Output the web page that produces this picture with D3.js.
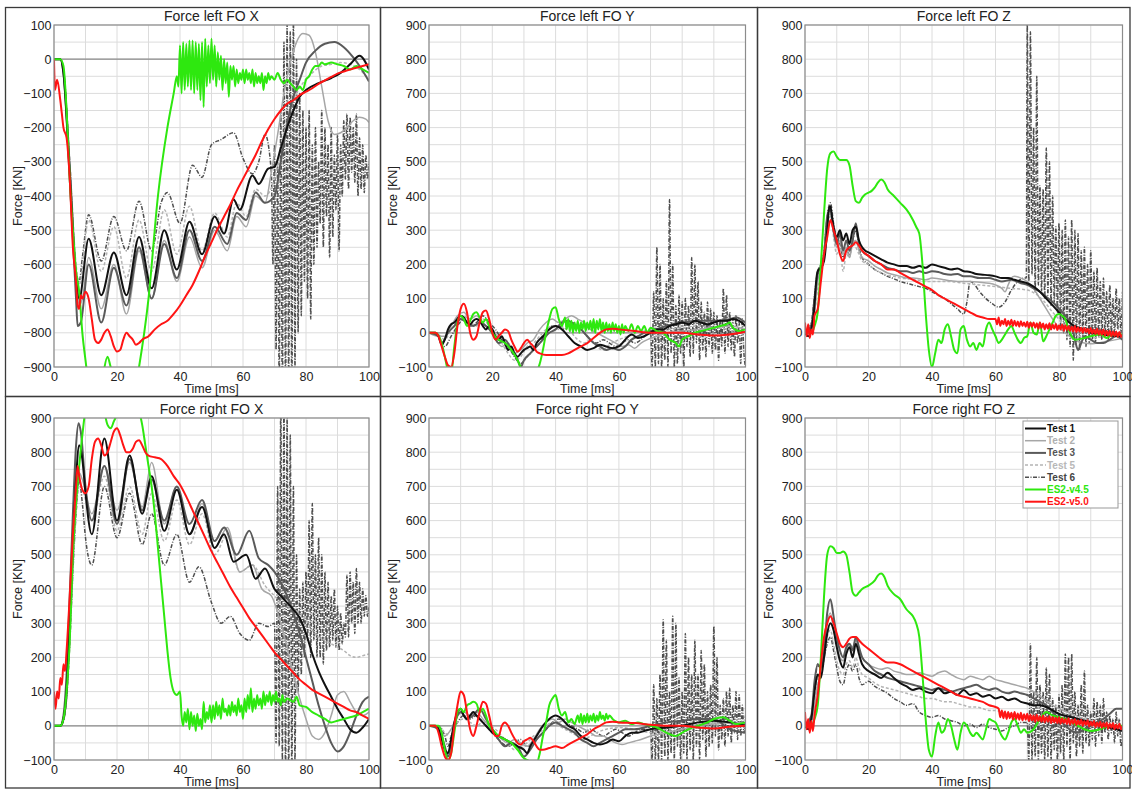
<!DOCTYPE html>
<html><head><meta charset="utf-8">
<script src="https://cdn.jsdelivr.net/npm/d3@7"></script>
<style>body{margin:0;background:#fff}svg{display:block}text{font-family:"Liberation Sans",Arial,Helvetica,sans-serif}</style>
</head><body><svg id="c" width="1132" height="789"></svg>
<script>
// ---------- labels / ticks ----------
const panelTitles = ["Force left FO X","Force left FO Y","Force left FO Z","Force right FO X","Force right FO Y","Force right FO Z"];
const seriesNames = ["Test 1","Test 2","Test 3","Test 5","Test 6","ES2-v4.5","ES2-v5.0"];
const timeTicks = [0,20,40,60,80,100];
const yTicksNeg = [100,0,-100,-200,-300,-400,-500,-600,-700,-800,-900];
const yTicksPos = [900,800,700,600,500,400,300,200,100,0,-100];
const xLabel = "Time [ms]";
const yLabel = "Force [KN]";

// ---------- Panel 1 : left FO X  (flat t,v pairs) ----------
const lxT1 = [0,0,2,0,3,-40,5,-330,7,-640,8,-700,11,-525,15,-690,19,-565,23,-690,27,-520,31,-670,35,-500,39,-615,43,-475,47,-570,51,-460,54,-510,57,-410,59,-440,63,-340,65,-365,68,-320,70,-315,72,-260,74,-200,76,-150,78,-110,80,-90,84,-70,88,-55,91,-40,94,-15,97,10,100,-30];
const lxT2 = [0,0,2,0,3,-30,5,-300,7,-620,8,-720,9,-700,11,-580,15,-730,19,-600,23,-745,27,-560,31,-700,35,-530,39,-650,43,-520,47,-610,51,-500,55,-560,58,-460,61,-490,64,-400,67,-420,69,-330,71,-220,73,-100,75,-10,77,50,79,75,81,70,83,20,85,-80,87,-180,89,-220,91,-215,93,-200,95,-180,97,-170,99,-175,100,-185];
const lxT3 = [0,0,2,0,3,-40,5,-350,7,-700,7.5,-780,8.5,-770,11,-600,15,-770,19,-610,23,-720,27,-550,31,-700,35,-540,39,-640,43,-500,47,-590,51,-490,55,-540,58,-450,61,-470,64,-390,67,-420,70,-400,72,-300,74,-190,76,-110,78,-60,80,-10,83,25,86,45,89,50,92,35,95,5,97,-20,100,-65];
const lxT5 = [0,0,2,0,3,-30,5,-300,7,-600,8,-660,11,-470,15,-620,19,-490,23,-640,27,-470,31,-620,35,-440,39,-570,43,-430,47,-560,51,-450,55,-520,58,-420,61,-460,64,-380,67,-400,70,-350,73,-220,76,-120,79,-70,82,-40,85,-20,88,-15,91,-10,94,-15,97,-30,100,-60];
const lxT6 = [0,0,2,0,3,-30,5,-300,7,-620,8,-650,9,-580,11,-455,15,-590,19,-460,23,-560,27,-415,31,-560,34,-420,36,-390,40,-480,44,-310,47,-345,50,-250,53,-235,57,-215,60,-290,63,-335,65,-300,67,-220,69,-330,
  69.5,-600,70,-250,70.5,-850,71,-300,71.5,-950,72,-150,72.5,-1000,73,50,73.5,-1000,74,100,74.5,-950,75,80,75.5,-1000,76,120,76.5,-900,77,0,77.5,-800,78,-100,78.5,-750,79,-150,79.5,-650,80,-200,80.5,-700,81,-150,81.5,-760,82,-250,82.5,-600,83,-200,83.5,-550,84,-300,84.5,-480,85,-150,85.5,-550,86,-200,86.5,-460,87,-250,87.5,-580,88,-200,88.5,-520,89,-280,89.5,-440,90,-220,90.5,-560,91,-250,91.5,-400,92,-180,92.5,-350,93,-160,93.5,-380,94,-170,94.5,-330,95,-200,95.5,-360,96,-160,96.5,-400,97,-230,97.5,-380,98,-250,98.5,-390,99,-280,99.5,-350,100,-300];
const lxV45 = [0,0,2,0,3,-20,4,-150,5,-350,6,-500,7,-620,8,-680,9,-800,10,-880,11,-950,13,-1000,15,-950,17,-870,18,-900,20,-940,22,-1000,25,-1000,27,-900,30,-700,33,-400,36,-200,38,-100,39,-50,39.5,-80,
  40,40,40.5,-100,41,50,41.5,-90,42,45,42.5,-80,43,55,43.5,-90,44,55,44.5,-100,45,50,45.5,-90,46,45,46.5,-120,47,50,47.5,-140,48,60,48.5,-80,49,40,49.5,-70,50,60,50.5,-60,51,40,51.5,-80,52,20,52.5,-60,53,10,53.5,-90,54,0,54.5,-70,55,-10,55.5,-110,56,-20,56.5,-60,57,-20,57.5,-80,58,-30,58.5,-70,59,-40,59.5,-60,60,-30,60.5,-70,61,-30,61.5,-60,62,-40,62.5,-70,63,-30,63.5,-80,64,-40,64.5,-70,65,-50,65.5,-70,66,-40,66.5,-90,67,-50,67.5,-70,68,-40,68.5,-60,69,-50,70,-60,71,-40,72,-60,73,-70,74,-60,75,-70,76,-80,77,-90,78,-80,79,-90,80,-60,81,-50,82,-30,83,-20,84,-20,85,-10,86,-15,88,-10,90,-15,92,-20,94,-30,96,-20,98,-30,100,-40];
const lxV50 = [0,0,0.3,-90,1,-60,2,-120,2.5,-160,3,-200,4,-230,5,-350,6,-550,7,-650,7.5,-720,8,-730,8.5,-690,9,-700,10,-680,11,-700,12,-760,13,-820,14,-830,15,-820,16,-800,17,-790,18,-810,19,-840,20,-855,21,-850,22,-820,23,-800,24,-810,25,-820,26,-835,27,-830,28,-820,30,-810,32,-790,34,-775,36,-765,38,-745,40,-720,42,-690,44,-660,46,-620,48,-575,50,-535,52,-495,54,-460,56,-425,58,-385,60,-350,62,-315,64,-280,66,-240,68,-205,70,-175,72,-150,74,-130,76,-120,78,-105,80,-95,82,-85,84,-72,86,-62,88,-52,90,-42,92,-36,94,-30,96,-25,98,-20,100,-15];

// ---------- Panel 2 : left FO Y ----------
const lyT1 = [0,0,2,0,3,-10,4,-35,5,-20,6,10,7,25,8,30,10,50,11,45,12,30,13,25,14,35,15,40,16,35,17,20,18,10,19,20,20,10,21,-10,22,-20,23,-10,24,-30,25,-50,26,-40,27,-60,28,-70,29,-60,30,-50,31,-45,32,-40,33,-50,34,-30,36,-10,38,10,40,20,42,10,44,-10,46,-30,48,-40,50,-50,52,-45,54,-35,56,-40,58,-45,60,-40,62,-20,64,-5,66,-15,68,-10,70,0,72,10,74,10,76,20,78,25,80,30,82,25,84,35,86,30,88,25,90,30,92,35,94,35,96,40,98,35,100,20];
const lyT2 = [0,0,3,-10,5,-10,7,20,9,50,11,60,13,40,15,50,17,30,19,10,21,-20,23,-40,25,-30,27,-60,29,-50,31,-30,33,-20,35,10,37,30,39,40,41,30,43,40,45,50,47,40,49,30,51,10,53,0,55,-10,57,-20,59,-30,61,-40,63,-35,65,-45,67,-30,69,-20,72,-10,75,0,80,5,85,10,90,15,95,20,100,10];
const lyT3 = [0,0,3,-10,4,-30,6,0,8,20,10,40,12,30,14,20,16,30,18,20,20,0,22,-30,24,-20,26,-50,28,-80,29,-100,30,-80,32,-60,34,-40,36,-20,38,0,40,10,42,30,44,35,46,20,48,10,50,-10,52,-30,54,-40,56,-50,58,-45,60,-50,62,-40,64,-20,66,-10,68,0,70,5,75,20,80,30,85,35,90,35,95,40,97,45,100,30];
const lyT5 = [0,0,3,-5,5,-20,7,10,9,30,11,50,13,30,15,20,17,40,19,20,21,0,23,-30,25,-60,27,-80,29,-70,31,-40,33,-30,35,-10,37,10,39,20,41,10,43,20,45,0,47,-20,49,-30,51,-20,53,-40,55,-50,57,-35,60,-20,63,-10,66,0,70,10,75,10,80,15,85,20,90,15,95,10,100,0];
const lyT6 = [0,0,3,-10,5,-40,7,-10,9,20,11,40,13,20,15,30,17,50,19,30,21,10,23,-20,25,-40,27,-70,29,-90,31,-70,33,-50,35,-30,37,0,39,20,41,20,43,10,45,30,47,20,49,0,51,-20,53,-30,55,-20,57,-30,59,-40,61,-30,63,-20,65,-30,67,-20,69,0,
  70,10,70.5,-100,71,120,71.5,-100,72,250,72.5,-90,73,200,73.5,-100,74,100,74.5,-80,75,150,75.5,-100,76,390,76.5,-60,77,200,77.5,-100,78,80,78.5,-90,79,110,79.5,-60,80,90,80.5,-100,81,100,81.5,-40,82,80,82.5,-70,83,220,83.5,-60,84,200,84.5,-30,85,150,85.5,-80,86,90,86.5,-50,87,60,87.5,-70,88,90,88.5,-40,89,70,89.5,-60,90,60,90.5,-50,91,50,91.5,-80,92,40,92.5,-40,93,130,93.5,-60,94,110,94.5,-40,95,60,95.5,-50,96,40,96.5,-70,97,50,97.5,-30,98,30,98.5,-90,99,40,99.5,-60,100,-100];
const lyV45 = [0,0,2,0,4,-30,5,-70,6,-110,7,-120,8,-40,9,30,10,50,11,40,12,20,13,35,14,55,15,60,16,45,17,30,18,40,19,20,20,0,22,-20,24,-30,26,-50,28,-80,29,-100,30,-110,34,-110,35,-90,36,-50,37,0,38,40,39,70,40,75,41,40,42,20,
  43,45,43.5,10,44,40,44.5,5,45,35,45.5,0,46,30,46.5,5,47,35,47.5,0,48,30,48.5,10,49,35,49.5,5,50,30,50.5,10,51,35,51.5,5,52,40,52.5,0,53,35,53.5,10,54,40,54.5,5,55,30,55.5,0,56,30,56.5,5,57,25,57.5,0,58,30,58.5,5,59,25,59.5,0,60,20,60.5,-5,61,25,61.5,0,62,20,63,5,64,25,65,0,66,20,67,5,68,20,69,0,70,15,72,5,74,0,76,-20,78,-30,79,-40,80,-20,82,-10,84,0,86,5,88,10,90,15,92,20,94,25,95,30,96,15,98,5,100,10];
const lyV50 = [0,0,2,0,3,-10,4,-40,5,-70,6,-95,7,-100,8,-60,9,20,10,70,11,85,12,60,13,0,14,-20,15,-10,16,30,17,60,18,65,19,40,20,0,21,-20,22,-10,23,0,24,10,25,5,26,-20,27,-40,28,-55,29,-45,30,-30,31,-20,32,-30,33,-40,34,-55,35,-60,37,-65,40,-65,42,-65,44,-60,46,-50,48,-40,50,-30,52,-15,54,0,56,10,58,12,60,10,65,5,70,0,75,0,80,0,85,-5,90,-8,95,-5,100,3];

// ---------- Panel 3 : left FO Z ----------
const lzT1 = [0,0,1,-10,2,10,3,80,3.5,150,4,180,5,190,6,210,7,300,7.5,360,8,370,8.5,340,9,310,10,280,11,300,12,270,13,290,14,260,15,300,16,310,17,270,18,250,19,240,20,235,22,225,24,215,26,205,28,200,30,195,32,195,34,190,36,195,38,190,40,200,42,195,44,190,46,185,48,188,50,180,52,178,54,172,56,170,58,168,60,165,62,160,64,160,66,155,68,150,70,145,72,135,74,120,76,100,78,80,80,60,82,40,84,25,86,15,88,8,90,0,93,-5,96,-8,100,-10];
const lzT2 = [0,0,2,10,3,60,4,150,5,180,6,220,7,320,8,340,9,290,10,250,11,270,12,230,13,250,14,220,15,260,16,270,17,240,18,220,20,210,22,195,24,185,26,175,28,170,30,165,32,160,34,160,36,158,38,155,40,160,42,158,44,155,46,152,48,150,50,150,52,150,55,148,58,145,60,140,62,130,63,120,64,140,65,160,66,165,68,160,70,150,72,130,74,100,76,70,78,40,80,15,82,0,84,-15,86,-25,88,-30,90,-32,92,-30,95,-25,98,-20,100,-15];
const lzT3 = [0,0,2,20,3,100,4,170,5,195,6,230,7,340,8,360,9,300,10,260,11,290,12,240,13,270,14,240,15,270,16,320,17,260,18,240,20,225,22,210,24,200,26,190,28,185,30,180,32,180,34,175,36,180,38,175,40,180,42,178,44,172,46,170,48,172,50,165,52,165,55,160,58,160,60,155,62,150,65,155,68,145,70,140,72,130,74,120,76,105,78,90,80,70,82,50,84,20,85,-20,86,-50,87,-30,88,-10,90,-20,92,-30,94,-30,96,-20,98,-10,100,-20];
const lzT5 = [0,0,3,60,4,130,5,170,6,220,7,330,8,350,9,280,10,230,11,250,12,180,13,230,14,220,15,270,16,250,17,230,18,210,20,200,22,185,24,175,26,168,28,165,30,160,32,158,35,155,38,150,40,150,45,150,50,145,55,140,60,135,65,130,70,125,75,95,78,60,80,40,83,10,86,-10,90,-15,95,-10,100,-5];
const lzT6 = [0,0,2,30,3,110,4,180,5,200,6,240,7,340,8,380,9,320,10,270,11,260,12,220,13,240,14,230,15,270,16,300,17,250,18,220,20,200,22,185,24,175,26,165,28,158,30,150,32,145,34,140,36,135,38,130,40,120,42,110,44,100,46,85,48,70,50,55,51,90,52,150,53,145,55,120,57,100,59,85,61,75,63,90,65,125,67,150,69,160,
  69.7,160,70,900,70.5,150,71,880,71.5,170,72,600,72.5,120,73,750,73.5,140,74,430,74.5,120,75,420,75.5,100,76,540,76.5,110,77,500,77.5,80,78,400,78.5,90,79,310,79.5,60,80,320,80.5,20,81,300,81.5,0,82,330,82.5,-20,83,280,83.5,-40,84,330,84.5,-80,85,300,85.5,-30,86,290,86.5,-50,87,240,87.5,-20,88,250,88.5,-40,89,200,89.5,-30,90,240,90.5,-20,91,180,91.5,-30,92,190,92.5,-10,93,150,93.5,-20,94,160,94.5,-10,95,120,95.5,-20,96,140,96.5,0,97,100,97.5,-10,98,130,98.5,10,99,100,99.5,0,100,120];
const lzV45 = [0,0,2,0,3,20,4,60,5,200,6,350,7,480,8,525,9,530,10,515,11,505,12,505,13,505,14,490,15,430,16,385,17,380,18,395,19,405,20,410,21,415,22,425,23,440,24,448,25,440,26,420,28,400,30,380,32,360,34,330,35,310,36,290,37,200,38,60,39,-50,40,-100,41,-60,42,-20,43,-30,44,10,45,25,46,-10,47,-50,48,-60,49,10,50,20,51,-20,52,-40,53,-30,54,-50,55,-30,56,-40,57,10,58,30,59,10,60,-10,61,-30,62,-20,63,-5,64,10,65,20,66,0,67,-20,68,-30,69,-15,70,-10,71,30,72,0,73,-5,74,30,75,-25,76,-10,77,10,78,30,79,50,80,55,81,50,82,40,83,10,84,-10,85,-20,88,-15,90,-10,93,-5,95,-15,97,-5,100,-5];
const lzV50 = [0,30,0.5,-10,1,25,1.5,-15,2,10,2.5,-5,3,50,4,70,5,150,6,230,7,280,8,330,9,300,10,270,11,230,12,210,13,240,14,250,15,255,16,265,17,255,18,240,20,225,22,210,24,200,26,185,28,185,30,175,32,165,34,155,36,145,38,135,40,125,42,110,44,100,46,90,48,80,50,70,52,60,54,50,56,45,58,40,
  60,40,60.5,25,61,45,61.5,20,62,35,62.5,25,63,40,63.5,20,64,35,64.5,22,65,38,65.5,20,66,35,66.5,20,67,33,67.5,18,68,34,68.5,20,69,30,69.5,18,70,32,70.5,15,71,30,71.5,18,72,30,72.5,15,73,28,73.5,12,74,30,74.5,14,75,27,75.5,10,76,25,76.5,12,77,28,77.5,10,78,24,78.5,12,79,26,79.5,8,80,22,80.5,10,81,24,81.5,6,82,22,82.5,8,83,20,83.5,5,84,18,84.5,4,85,20,85.5,2,86,16,86.5,4,87,15,87.5,0,88,14,88.5,2,89,12,89.5,-2,90,14,90.5,-2,91,10,91.5,-4,92,12,92.5,-5,93,8,93.5,-6,94,10,94.5,-8,95,6,95.5,-8,96,6,96.5,-10,97,4,97.5,-10,98,4,98.5,-12,99,2,99.5,-12,100,-5];

// ---------- Panel 4 : right FO X ----------
const rxT1 = [0,0,2,0,3,20,4,100,5,300,6,520,7,720,8,820,9,780,10,680,12,560,16,840,20,600,24,790,28,620,31,730,35,570,39,690,43,560,47,640,51,520,54,560,57,480,61,500,64,430,67,460,70,400,72,380,74,360,76,340,78,315,80,270,82,210,84,160,86,120,88,85,90,50,92,20,94,-10,96,-20,98,-5,100,20];
const rxT2 = [0,0,2,0,3,20,4,90,5,260,6,480,7,650,8,740,9,720,12,620,16,760,20,630,24,770,28,640,31,770,35,590,39,700,43,560,47,650,51,520,55,580,59,450,63,470,66,400,69,380,72,300,74,230,76,150,78,80,80,20,82,-30,84,-40,86,-20,88,30,90,90,92,100,94,70,96,40,98,30,100,40];
const rxT3 = [0,0,2,0,3,30,4,150,5,380,6,620,7,820,7.8,885,8.5,860,10,700,12,600,16,760,20,590,24,780,28,630,31,720,35,600,39,700,43,590,47,660,51,540,54,580,58,500,62,570,65,490,68,470,70,450,72,420,74,380,76,330,78,270,80,200,82,130,84,60,86,0,88,-50,90,-75,92,-60,94,-20,96,30,98,70,100,85];
const rxT5 = [0,0,2,0,3,15,4,80,5,240,6,450,7,620,8,700,9,690,12,600,16,730,20,570,24,700,28,560,31,680,35,540,39,660,43,530,47,620,51,500,55,560,59,450,63,470,67,410,70,380,72,360,74,350,76,340,78,330,80,310,82,280,84,260,86,250,88,240,90,230,92,220,94,205,96,200,98,205,100,210];
const rxT6 = [0,0,2,0,3,15,4,80,5,240,6,450,7,620,8,720,9,650,10,550,12,470,16,700,20,550,24,680,28,530,31,620,35,470,39,560,43,420,46,465,50,360,53,300,56,320,59,270,62,250,65,300,68,290,
  70,300,70.5,-50,71,700,71.5,-60,72,950,72.5,-100,73,950,73.5,-150,74,900,74.5,-150,75,850,75.5,-150,76,700,76.5,-100,77,500,77.5,100,78,400,78.5,150,79,420,79.5,200,80,450,80.5,250,81,600,81.5,200,82,650,82.5,250,83,500,83.5,200,84,550,84.5,200,85,500,85.5,180,86,450,86.5,220,87,420,87.5,230,88,380,88.5,250,89,400,89.5,230,90,350,90.5,220,91,330,91.5,240,92,300,92.5,260,93,440,93.5,260,94,450,94.5,300,95,420,95.5,270,96,460,96.5,300,97,420,97.5,300,98,400,98.5,320,99,380,99.5,320,100,350];
const rxV45 = [0,0,2,0,3,20,4,100,5,250,6,500,7,650,8,760,9,850,10,920,12,950,15,950,17,880,18,870,19,890,20,910,22,950,25,950,27,920,28,880,29,820,30,760,31,700,32,620,33,520,34,420,35,320,36,220,37,140,38,100,39,90,40,100,
  40.5,30,41,0,41.5,40,42,10,42.5,50,43,-10,43.5,40,44,0,44.5,30,45,-15,45.5,35,46,0,46.5,20,47,-10,47.5,70,48,10,48.5,40,49,20,49.5,60,50,10,50.5,60,51,20,51.5,70,52,30,52.5,60,53,20,53.5,80,54,40,54.5,50,55,30,55.5,60,56,30,56.5,70,57,40,57.5,60,58,30,58.5,80,59,40,59.5,60,60,20,60.5,80,61,40,61.5,90,62,50,62.5,110,63,40,63.5,80,64,50,64.5,90,65,60,65.5,80,66,50,66.5,100,67,60,67.5,90,68,70,68.5,100,69,60,69.5,90,70,70,70.5,100,71,70,71.5,80,72,60,72.5,90,73,70,74,80,75,75,76,70,77,85,78,60,80,55,82,40,84,30,86,20,88,10,90,15,92,20,94,25,96,30,98,40,100,50];
const rxV50 = [0,100,0.5,50,1,100,1.5,80,2,140,2.5,120,3,180,3.5,160,4,220,5,380,6,560,7,700,7.5,760,8,730,9,690,10,680,11,700,12,780,13,830,14,840,15,820,16,790,17,800,18,830,19,860,20,870,21,850,22,820,23,800,24,800,25,810,26,830,27,835,28,820,29,800,30,790,32,785,34,780,36,760,38,730,40,705,42,670,44,630,46,590,48,550,50,510,52,475,54,440,56,405,58,375,60,345,62,315,64,290,66,265,68,240,70,215,72,195,74,175,76,155,78,135,80,120,82,105,84,95,86,85,88,75,90,65,92,55,94,45,96,40,98,30,100,20];

// ---------- Panel 5 : right FO Y ----------
const ryT1 = [0,0,2,0,3,-10,4,-40,5,-70,6,-80,7,-40,8,10,9,40,10,50,11,30,12,20,13,30,14,40,15,30,16,20,17,10,18,0,19,-10,20,-20,22,-30,24,-40,26,-50,28,-60,30,-70,31,-80,32,-60,34,-30,36,0,38,20,40,30,42,20,44,0,46,-10,48,-30,50,-40,52,-50,54,-55,56,-50,58,-40,60,-45,62,-30,64,-20,66,-20,68,-15,70,-10,75,-5,80,0,85,10,90,15,95,10,100,0];
const ryT2 = [0,0,3,-5,5,-30,7,-10,9,30,11,40,13,30,15,40,17,20,19,0,21,-20,23,-40,25,-50,27,-40,29,-50,31,-60,33,-40,35,-10,37,10,39,20,41,10,43,20,45,10,47,0,49,-10,51,-20,53,-30,55,-30,57,-40,59,-50,61,-55,63,-50,65,-45,67,-40,70,-30,75,-20,80,-10,85,0,90,5,95,10,100,10];
const ryT3 = [0,0,3,-10,4,-30,5,-60,6,-90,7,-60,8,0,9,30,10,40,12,20,14,30,16,50,18,20,20,-10,22,-40,24,-60,26,-50,28,-60,30,-90,32,-70,34,-40,36,-20,38,0,40,10,42,0,44,-10,46,-20,48,-40,50,-50,52,-60,54,-50,56,-40,58,-30,60,-20,62,-10,65,-10,70,0,75,10,80,15,85,20,90,20,95,-10,100,-20];
const ryT5 = [0,0,3,0,5,-20,7,-30,9,10,11,20,13,10,15,0,17,10,19,0,21,-10,23,-30,25,-50,27,-70,29,-60,31,-50,33,-30,35,-20,37,0,39,10,41,0,43,-10,45,-20,47,-30,49,-40,51,-30,53,-20,56,-10,60,-5,65,-10,70,-20,75,-10,80,0,90,10,100,0];
const ryT6 = [0,0,3,0,5,-30,6,-60,7,-30,9,10,11,30,13,20,15,30,17,10,19,-10,21,-30,23,-50,25,-60,27,-50,29,-40,31,-60,33,-50,35,-30,37,-10,39,10,41,20,43,10,45,0,47,-10,49,-20,51,-10,53,-20,55,-30,57,-20,59,-10,61,-20,63,-30,65,-20,67,-10,69,-10,
  70,0,70.5,-100,71,120,71.5,-100,72,80,72.5,-100,73,150,73.5,-100,74,310,74.5,-90,75,250,75.5,-100,76,100,76.5,-80,77,320,77.5,-100,78,300,78.5,-60,79,140,79.5,-100,80,100,80.5,-80,81,270,81.5,-100,82,200,82.5,-70,83,150,83.5,-100,84,250,84.5,-60,85,150,85.5,-100,86,220,86.5,-40,87,180,87.5,-90,88,100,88.5,-60,89,120,89.5,-50,90,290,90.5,-30,91,200,91.5,-70,92,60,92.5,-40,93,80,93.5,-60,94,100,94.5,-30,95,110,95.5,-50,96,60,96.5,-20,97,100,97.5,-40,98,90,98.5,-30,99,60,99.5,-20,100,30];
const ryV45 = [0,0,3,0,4,-20,5,-70,6,-100,7,-80,8,-20,9,40,10,50,11,40,12,60,13,65,14,70,15,65,16,40,17,50,18,30,19,0,20,-10,22,-30,24,-40,26,-50,28,-70,30,-95,31,-100,34,-110,35,-80,36,-30,37,10,38,60,39,80,40,90,41,50,42,30,43,40,44,10,45,20,46,5,47,30,47.5,10,48,35,48.5,5,49,30,49.5,10,50,35,50.5,10,51,30,51.5,15,52,35,52.5,10,53,30,53.5,15,54,40,54.5,20,55,30,55.5,15,56,35,56.5,20,57,30,58,20,60,10,62,15,64,5,66,10,68,5,70,0,72,-5,75,-20,78,-30,80,-20,82,-10,85,0,88,10,90,20,93,25,95,15,97,5,100,10];
const ryV50 = [0,0,2,0,3,-20,4,-60,5,-90,6,-100,7,-80,8,0,9,60,10,100,11,90,12,40,13,-10,14,-30,15,0,16,40,17,70,18,65,19,30,20,-10,21,-30,22,-30,23,0,24,10,25,0,26,-20,28,-50,29,-55,30,-45,31,-40,32,-35,33,-45,34,-60,35,-70,36,-70,38,-65,40,-60,42,-65,44,-55,46,-45,48,-35,50,-25,52,-10,54,0,56,10,58,12,60,10,65,8,70,3,75,0,80,0,85,-5,90,-8,95,-3,100,0];

// ---------- Panel 6 : right FO Z ----------
const rzT1 = [0,0,1,-10,2,20,3,100,4,150,5,140,6,200,7,270,8,300,9,280,10,230,11,190,12,170,13,210,14,230,15,200,16,240,17,210,18,180,20,160,22,150,24,140,26,155,28,140,30,125,32,115,34,105,36,110,38,100,40,95,42,110,44,95,46,100,48,90,50,105,52,90,54,95,56,85,58,90,60,80,62,85,64,75,66,80,68,70,70,65,72,60,74,60,76,55,78,45,80,35,84,25,88,15,92,5,96,-5,100,-15];
const rzT2 = [0,0,2,10,3,60,4,120,5,150,6,210,7,300,8,330,9,280,10,240,11,200,12,190,13,220,14,240,15,230,16,250,17,220,18,200,20,180,22,170,24,165,26,170,28,160,30,155,32,150,34,150,36,155,38,150,40,145,42,155,44,160,46,150,48,140,50,135,52,145,54,140,56,135,58,145,60,135,62,130,64,125,66,120,68,115,70,110,72,100,75,80,78,60,80,50,84,35,88,20,92,10,96,0,100,-10];
const rzT3 = [0,0,2,30,3,130,4,180,5,170,6,220,7,330,8,370,9,320,10,260,11,220,12,200,13,230,14,240,15,220,16,260,17,230,18,200,20,180,22,160,24,150,26,140,28,135,30,130,32,125,34,120,36,115,38,110,40,105,42,110,44,105,46,100,48,105,50,110,52,115,54,120,56,110,58,105,60,110,62,100,64,95,66,100,68,95,70,90,72,80,74,70,76,60,78,40,80,20,82,0,84,-15,86,-20,88,-10,90,0,92,10,94,20,96,35,98,50,100,50];
const rzT5 = [0,0,2,10,3,80,4,140,5,150,6,190,7,260,8,280,9,240,10,190,11,160,12,150,13,180,14,190,15,170,16,200,17,170,18,150,20,140,22,125,24,115,26,110,28,105,30,100,32,95,34,90,36,85,38,80,40,80,42,75,44,70,46,70,48,65,50,60,52,55,54,55,56,50,58,45,60,45,62,40,64,35,66,35,68,30,70,30,74,25,78,20,82,15,86,10,90,5,95,0,100,-5];
const rzT6 = [0,0,2,20,3,110,4,180,5,160,6,200,7,240,8,260,9,220,10,170,11,130,12,120,13,160,14,180,15,160,16,180,17,140,18,120,20,130,22,115,24,105,26,95,28,80,30,70,32,60,34,65,36,40,38,30,40,25,42,30,44,20,46,15,48,10,50,0,52,5,54,-5,56,5,58,-5,60,-10,62,-15,64,-5,66,0,68,10,
  70,10,70.5,-100,71,240,71.5,-100,72,100,72.5,-90,73,200,73.5,-100,74,120,74.5,-80,75,100,75.5,-100,76,170,76.5,-90,77,150,77.5,-100,78,80,78.5,-70,79,60,79.5,-100,80,90,80.5,-80,81,120,81.5,-100,82,210,82.5,-60,83,200,83.5,-100,84,210,84.5,-50,85,100,85.5,-90,86,60,86.5,-60,87,120,87.5,-80,88,160,88.5,-50,89,60,89.5,-60,90,40,90.5,-40,91,80,91.5,-60,92,70,92.5,-30,93,60,93.5,-50,94,80,94.5,-20,95,40,95.5,-40,96,30,96.5,-20,97,20,97.5,-50,98,40,98.5,-30,99,20,99.5,-60,100,-20];
const rzV45 = [0,0,2,0,3,20,4,60,5,200,6,380,7,500,8,525,9,520,10,505,11,505,12,510,13,500,14,450,15,390,16,380,17,390,18,400,20,410,22,425,23,440,24,445,25,435,26,410,28,385,30,370,32,340,34,320,35,300,36,260,37,150,38,20,39,-70,40,-90,41,-30,42,10,43,-20,44,-10,45,20,46,0,47,-40,48,-70,49,-20,50,10,51,0,52,-20,53,-30,54,-20,55,-30,56,-40,57,-10,58,20,59,15,60,10,61,-10,62,-30,63,-40,64,-20,65,10,66,20,67,0,68,-20,69,-10,70,-20,72,-10,74,20,76,40,78,30,80,25,82,20,84,10,86,0,88,-10,90,-15,93,-10,96,0,100,0];
const rzV50 = [0,40,0.5,-10,1,20,1.5,-20,2,15,2.5,-15,3,30,4,90,5,180,6,260,7,300,8,320,9,300,10,270,11,240,12,230,13,240,14,255,15,260,16,260,17,250,18,240,20,225,22,210,24,195,26,185,28,185,30,180,32,170,34,160,36,150,38,140,40,130,42,120,44,110,46,100,48,90,50,85,52,80,54,75,56,70,58,60,60,55,
  61,50,61.5,25,62,45,62.5,22,63,42,63.5,20,64,40,64.5,22,65,38,65.5,18,66,40,66.5,20,67,36,67.5,18,68,38,68.5,16,69,34,69.5,18,70,35,70.5,14,71,32,71.5,16,72,30,72.5,12,73,32,73.5,14,74,28,74.5,12,75,30,75.5,10,76,26,76.5,12,77,28,77.5,8,78,26,78.5,10,79,24,79.5,8,80,25,80.5,6,81,22,81.5,8,82,20,82.5,5,83,22,83.5,4,84,18,84.5,6,85,20,85.5,2,86,16,86.5,4,87,18,87.5,0,88,14,88.5,2,89,16,89.5,-2,90,12,90.5,0,91,14,91.5,-4,92,10,92.5,-2,93,12,93.5,-6,94,8,94.5,-4,95,10,95.5,-8,96,6,96.5,-6,97,8,97.5,-10,98,4,98.5,-8,99,6,99.5,-10,100,0];

// ---------- assemble ----------
const panelSeries = [
  [lxT1,lxT2,lxT3,lxT5,lxT6,lxV45,lxV50],
  [lyT1,lyT2,lyT3,lyT5,lyT6,lyV45,lyV50],
  [lzT1,lzT2,lzT3,lzT5,lzT6,lzV45,lzV50],
  [rxT1,rxT2,rxT3,rxT5,rxT6,rxV45,rxV50],
  [ryT1,ryT2,ryT3,ryT5,ryT6,ryV45,ryV50],
  [rzT1,rzT2,rzT3,rzT5,rzT6,rzV45,rzV50]
];
const panelDomains = [[-900,100],[-100,900],[-100,900],[-100,900],[-100,900],[-100,900]];
const panelYTicks = [yTicksNeg,yTicksPos,yTicksPos,yTicksPos,yTicksPos,yTicksPos];

// styles (index matches seriesNames)
const styles = [
  {c:"#111111", w:2.0, d:null,      lc:"#111111"},
  {c:"#a6a6a6", w:1.5, d:null,      lc:"#b0b0b0"},
  {c:"#5a5a5a", w:2.0, d:null,      lc:"#555555"},
  {c:"#b4b4b4", w:1.5, d:"3,2",     lc:"#b8b8b8"},
  {c:"#4e4e4e", w:1.5, d:"4,1.5,1,1.5", lc:"#444444"},
  {c:"#2ee80f", w:2.0, d:null,      lc:"#2ee80f"},
  {c:"#ff1414", w:2.0, d:null,      lc:"#ff1414"}
];
const drawOrder = [4,3,1,2,0,5,6];

const cols = [{f0:5.5,f1:380.5,p0:54,p1:369},{f0:380.5,f1:757.5,p0:429,p1:745.5},{f0:757.5,f1:1130,p0:805,p1:1122.5}];
const rows = [{f0:7.5,f1:396.5,p0:25,p1:367},{f0:396.5,f1:788,p0:418,p1:760}];

const svg = d3.select("#c");
const font = '"Liberation Sans",Arial,sans-serif';

function toPts(flat){const a=[];for(let i=0;i<flat.length;i+=2)a.push([flat[i],flat[i+1]]);return a;}

panelTitles.forEach((title,pi)=>{
  const col = cols[pi%3], row = rows[Math.floor(pi/3)];
  const x = d3.scaleLinear().domain([0,100]).range([col.p0,col.p1]);
  const y = d3.scaleLinear().domain(panelDomains[pi]).range([row.p1,row.p0]);
  const g = svg.append("g");

  // cell frame
  g.append("rect").attr("x",col.f0).attr("y",row.f0).attr("width",col.f1-col.f0).attr("height",row.f1-row.f0)
    .attr("fill","none").attr("stroke","#3a3a3a").attr("stroke-width",1.3);

  // grid
  const gx = d3.range(0,101,10), gy = d3.range(panelDomains[pi][0],panelDomains[pi][1]+1,50);
  g.selectAll(".gv").data(gx).enter().append("line")
    .attr("x1",d=>x(d)).attr("x2",d=>x(d)).attr("y1",row.p0).attr("y2",row.p1)
    .attr("stroke","#dcdcdc").attr("stroke-width",1);
  g.selectAll(".gh").data(gy).enter().append("line")
    .attr("x1",col.p0).attr("x2",col.p1).attr("y1",d=>y(d)).attr("y2",d=>y(d))
    .attr("stroke","#dcdcdc").attr("stroke-width",1);
  // zero line
  g.append("line").attr("x1",col.p0).attr("x2",col.p1).attr("y1",y(0)).attr("y2",y(0))
    .attr("stroke","#8a8a8a").attr("stroke-width",1.3);

  // clip
  const cid = "clip"+pi;
  svg.append("clipPath").attr("id",cid).append("rect")
    .attr("x",col.p0).attr("y",row.p0).attr("width",col.p1-col.p0).attr("height",row.p1-row.p0);
  const lg = g.append("g").attr("clip-path",`url(#${cid})`);
  const line = d3.line().x(d=>x(d[0])).y(d=>y(d[1])).curve(d3.curveMonotoneX);
  drawOrder.forEach(si=>{
    const s = styles[si];
    lg.append("path").attr("d",line(toPts(panelSeries[pi][si])))
      .attr("fill","none").attr("stroke",s.c).attr("stroke-width",s.w)
      .attr("stroke-dasharray",s.d).attr("stroke-linejoin","round");
  });

  // plot border
  g.append("rect").attr("x",col.p0).attr("y",row.p0).attr("width",col.p1-col.p0).attr("height",row.p1-row.p0)
    .attr("fill","none").attr("stroke","#8c8c8c").attr("stroke-width",1.2);

  // axes labels via d3 axes (tick lines hidden)
  const yAxis = d3.axisLeft(y).tickValues(panelYTicks[pi]).tickSize(0).tickPadding(2.5).tickFormat(d3.format("d"));
  const ya = g.append("g").attr("transform",`translate(${col.p0},0)`).call(yAxis);
  ya.select(".domain").remove();
  ya.selectAll("text").attr("font-size",12.5).attr("fill","#222").attr("font-family",font);

  const xAxis = d3.axisBottom(x).tickValues(timeTicks).tickSize(0).tickPadding(5).tickFormat(d3.format("d"));
  const xa = g.append("g").attr("transform",`translate(0,${row.p1})`).call(xAxis);
  xa.select(".domain").remove();
  xa.selectAll("text").attr("font-size",12.5).attr("fill","#222").attr("font-family",font);

  // title & axis titles
  g.append("text").attr("x",(col.p0+col.p1)/2).attr("y",row.p0-4.5).attr("text-anchor","middle")
    .attr("font-size",14).attr("fill","#222").attr("font-family",font).text(title);
  g.append("text").attr("x",(col.p0+col.p1)/2).attr("y",row.p1+26).attr("text-anchor","middle")
    .attr("font-size",12.5).attr("fill","#222").attr("font-family",font).text(xLabel);
  const yc = (row.p0+row.p1)/2, xc = col.p0-36;
  g.append("text").attr("transform",`translate(${xc+4},${yc}) rotate(-90)`).attr("text-anchor","middle")
    .attr("font-size",12.5).attr("fill","#222").attr("font-family",font).text(yLabel);

  // legend in last panel
  if(pi===5){
    const lx0 = 1023, ly0 = 421, lh = 12.2;
    const leg = g.append("g");
    leg.append("rect").attr("x",lx0).attr("y",ly0).attr("width",95).attr("height",87)
      .attr("fill","#fff").attr("stroke","#999").attr("stroke-width",1);
    seriesNames.forEach((n,i)=>{
      const s = styles[i], yy = ly0+7.5+i*lh;
      leg.append("line").attr("x1",lx0+2).attr("x2",lx0+23).attr("y1",yy).attr("y2",yy)
        .attr("stroke",s.c).attr("stroke-width",s.w).attr("stroke-dasharray",s.d);
      leg.append("text").attr("x",lx0+24).attr("y",yy+3.5).attr("font-size",10).attr("font-weight","bold")
        .attr("fill",s.lc).attr("font-family",font).text(n);
    });
  }
});
</script></body></html>
